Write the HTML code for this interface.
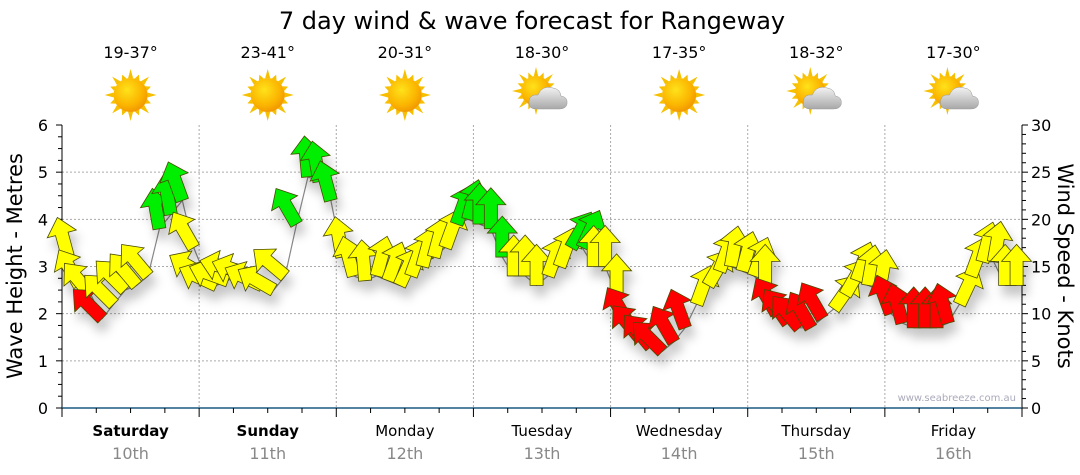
<!DOCTYPE html>
<html><head><meta charset="utf-8">
<style>
body{margin:0;background:#fff;}
svg{display:block;font-family:"DejaVu Sans","Liberation Sans",sans-serif;}
</style></head>
<body>
<svg id="c" width="1080" height="475" viewBox="0 0 1080 475">
<defs>
<filter id="sh" x="-50%" y="-50%" width="200%" height="250%">
<feDropShadow dx="4" dy="10" stdDeviation="5" flood-color="#000" flood-opacity="0.22"/>
</filter>
<radialGradient id="sunG" cx="40%" cy="35%" r="65%"><stop offset="0" stop-color="#ffe21a"/><stop offset="0.7" stop-color="#fbb400"/><stop offset="1" stop-color="#f29a00"/></radialGradient>
<linearGradient id="cloudG" x1="0" y1="0" x2="0" y2="1"><stop offset="0" stop-color="#f2f2f2"/><stop offset="1" stop-color="#a8a8a8"/></linearGradient>
</defs>
<text x="532" y="29" font-size="24" text-anchor="middle" fill="#000">7 day wind &amp; wave forecast for Rangeway</text>
<g id="days"></g>
<g id="grid"></g>
<g id="axes"></g>
<polyline id="wave" fill="none" stroke="#888" stroke-width="1.2"/>
<g id="arrows" filter="url(#sh)"></g>
<text x="1016" y="401" font-size="10" text-anchor="end" fill="#aab">www.seabreeze.com.au</text>
<text transform="translate(22,266) rotate(-90)" font-size="21" text-anchor="middle">Wave Height - Metres</text>
<text transform="translate(1058,266) rotate(90)" font-size="21" text-anchor="middle">Wind Speed - Knots</text>
</svg>
<script>
const dayNames=["Saturday","Sunday","Monday","Tuesday","Wednesday","Thursday","Friday"];
const dayDates=["10th","11th","12th","13th","14th","15th","16th"];
const tempRanges=["19-37°","23-41°","20-31°","18-30°","17-35°","18-32°","17-30°"];
const weatherIcons=["sun","sun","sun","cloud","sun","cloud","cloud"];
const leftTicks=[0,1,2,3,4,5,6];
const rightTicks=[0,5,10,15,20,25,30];
const windSpeed=[16,13,12,9.5,11,12.5,13,14,19,20.5,22,17,
 14,13,13.5,14.5,14,13,12.5,14,19.5,24.5,24,22,
 16,14,13.5,14,13.5,13,14,15,16,17,19.5,20,
 19.5,19,16,14,14,13,14,15,17,17,15,15,
 12,9,7.5,6.5,6,7,8.5,11,13,14.5,15,14.5,
 14,13,10,9,8.5,8.5,9.5,10.5,12,13.5,13,12.5,
 10,9,8.5,8.5,8.5,9,11,14,15.5,15.5,13,13];
const windDir=[345,330,320,315,315,315,320,320,350,350,340,330,
 300,295,290,285,290,295,300,310,330,355,350,345,
 350,345,355,15,20,25,20,15,15,20,20,15,
 0,0,0,0,0,0,20,20,30,25,0,0,
 0,330,320,320,315,330,340,20,30,20,10,15,
 20,0,330,325,320,330,330,35,30,20,10,10,
 340,345,0,0,0,345,25,20,15,10,0,0];
const windCol=["y","y","y","r","y","y","y","y","g","g","g","y",
 "y","y","y","y","y","y","y","y","g","g","g","g",
 "y","y","y","y","y","y","y","y","y","y","g","g",
 "g","g","g","y","y","y","y","y","g","g","y","y",
 "y","r","r","r","r","r","r","y","y","y","y","y",
 "y","y","r","r","r","r","r","y","y","y","y","y",
 "r","r","r","r","r","r","y","y","y","y","y","y"];
const NS="http://www.w3.org/2000/svg";
const X0=62,X1=1022,Y0=408,Y1=125;
const dayW=(X1-X0)/7;
const xT=i=>X0+i*(X1-X0)/windSpeed.length;
const yM=m=>Y0-(m/6)*(Y0-Y1);
const yK=k=>Y0-(k/30)*(Y0-Y1);
function mk(tag,attrs,parent){const e=document.createElementNS(NS,tag);for(const k in attrs)e.setAttribute(k,attrs[k]);parent.appendChild(e);return e;}
const days=document.getElementById('days'),grid=document.getElementById('grid'),axes=document.getElementById('axes'),arrows=document.getElementById('arrows');
for(let m=1;m<=5;m++){const l=mk('line',{x1:X0,x2:X1,y1:yM(m),y2:yM(m),stroke:'#aaa','stroke-dasharray':'2,2'},grid);

}
for(let d=1;d<7;d++){const x=X0+d*dayW;const l=mk('line',{x1:x,x2:x,y1:Y1,y2:Y0,stroke:'#aaa','stroke-dasharray':'2,2'},grid);

}
mk('line',{x1:X0,x2:X0,y1:Y1,y2:Y0,stroke:'#000'},axes);
mk('line',{x1:X1,x2:X1,y1:Y1,y2:Y0,stroke:'#000'},axes);
mk('line',{x1:X0,x2:X1,y1:Y0,y2:Y0,stroke:'#1a5a80','stroke-width':1.5},axes);
for(let t=0;t<=24;t++){const y=yM(t/4);mk('line',{x1:X0-(t%4?4:6),x2:X0,y1:y,y2:y,stroke:'#000'},axes);}
for(let t=0;t<=30;t++){const y=yK(t);mk('line',{x1:X1,x2:X1+(t%5?4:6),y1:y,y2:y,stroke:'#000'},axes);}
leftTicks.forEach(v=>{const t=mk('text',{x:X0-14,y:yM(v)+6,'font-size':16,'text-anchor':'end'},axes);t.textContent=v;

});
rightTicks.forEach(v=>{const t=mk('text',{x:X1+9,y:yK(v)+6,'font-size':16},axes);t.textContent=v;

});
for(let q=0;q<=28;q++){const x=X0+q*dayW/4;mk('line',{x1:x,x2:x,y1:Y0,y2:Y0+(q%4?5:9),stroke:'#000'},axes);}
dayNames.forEach((n,d)=>{const cx=X0+(d+0.5)*dayW;
const a=mk('text',{x:cx,y:436,'font-size':15,'text-anchor':'middle','font-weight':d<2?'bold':'normal'},days);a.textContent=n;


const b=mk('text',{x:cx,y:459,'font-size':16,'text-anchor':'middle',fill:'#888'},days);b.textContent=dayDates[d];


const t=mk('text',{x:cx,y:58,'font-size':16,'text-anchor':'middle'},days);t.textContent=tempRanges[d];


const g=mk('g',{transform:`translate(${cx},95)`},days);


const cloud=weatherIcons[d]==='cloud';
const sx=cloud?-6:0,sy=cloud?-4:0,r=cloud?15:17;
for(let k=0;k<16;k++){const ang=k*Math.PI/8,L=k%2?r+5:r+9;
const p1=[sx+Math.cos(ang)*L,sy+Math.sin(ang)*L],pa=[sx+Math.cos(ang+0.15)*r,sy+Math.sin(ang+0.15)*r],pb=[sx+Math.cos(ang-0.15)*r,sy+Math.sin(ang-0.15)*r];
mk('polygon',{points:`${p1} ${pa} ${pb}`,fill:'#f6c000'},g);}
mk('circle',{cx:sx,cy:sy,r:r,fill:'url(#sunG)'},g);
if(cloud){mk('path',{d:'M-6 14 Q-14 14 -13 6 Q-12 -1 -4 0 Q0 -10 11 -7 Q18 -6 19 1 Q26 2 25 9 Q24 14 17 14 Z',fill:'url(#cloudG)',stroke:'#999','stroke-width':0.5},g);}
});
const pts=windSpeed.map((k,i)=>`${xT(i)+6},${yK(k)}`).join(' ');
document.getElementById('wave').setAttribute('points',pts);
const cols={r:'#ff0000',y:'#ffff00',g:'#00ee00'};
windSpeed.forEach((k,i)=>{const x=xT(i)+6,y=yK(k);
const p=mk('polygon',{points:'-6.5,0 6.5,0 6.5,-24 15,-24 0,-41 -15,-24 -6.5,-24',fill:cols[windCol[i]],stroke:'#4a4a00','stroke-width':0.8,'stroke-linejoin':'miter',transform:`translate(${x},${y}) rotate(${windDir[i]})`},arrows);

});
</script>
</body></html>
